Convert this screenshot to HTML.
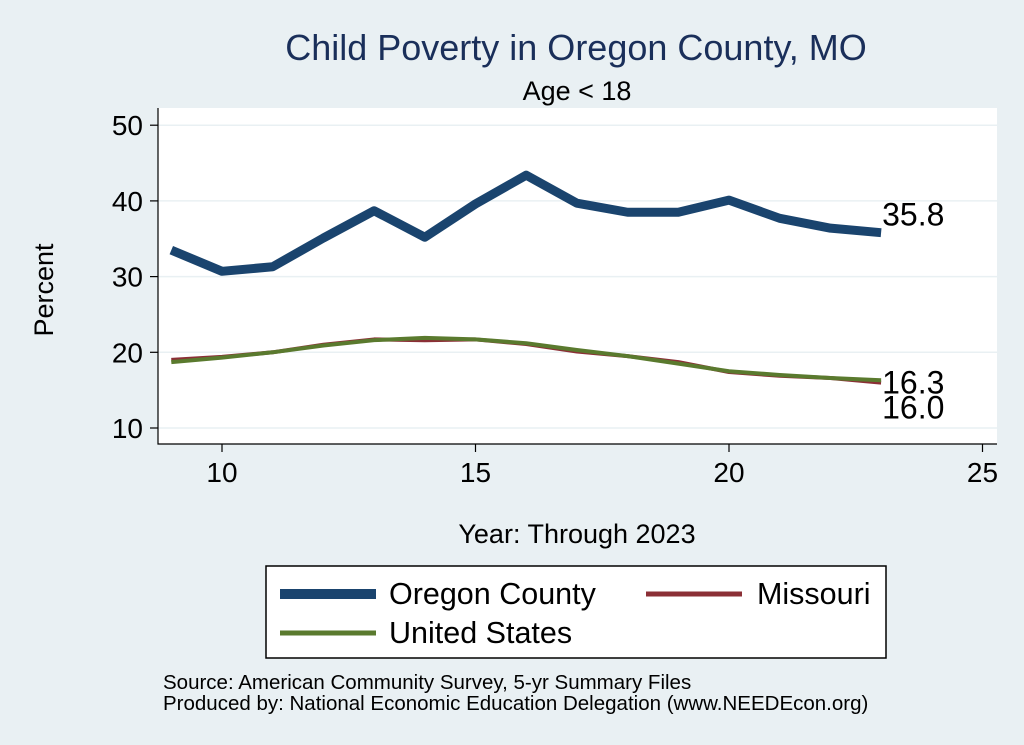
<!DOCTYPE html>
<html><head><meta charset="utf-8"><style>
body{margin:0;background:#e9f0f3;}
svg{display:block;font-family:"Liberation Sans",sans-serif;}
</style></head><body>
<svg id="chart" width="1024" height="745">
<rect x="0" y="0" width="1024" height="745" fill="#e9f0f3"/>
<text x="576" y="60" font-size="36" fill="#1a2f5a" text-anchor="middle">Child Poverty in Oregon County, MO</text>
<text x="577" y="100" font-size="27" fill="#000" text-anchor="middle">Age &lt; 18</text>
<rect x="158" y="108" width="839" height="336" fill="#fff"/>
<g id="grid"></g><g id="axes"></g><g id="series"></g>
<text transform="translate(53,290) rotate(-90)" font-size="27" text-anchor="middle">Percent</text>
<text x="577" y="543" font-size="27" text-anchor="middle">Year: Through 2023</text>
<g>
<rect x="266" y="566" width="620" height="92" fill="#fff" stroke="#000" stroke-width="1.5"/>
<line x1="280" y1="594" x2="376" y2="594" stroke="#1a446e" stroke-width="10"/>
<text x="389" y="604" font-size="30.5">Oregon County</text>
<line x1="646" y1="594" x2="742" y2="594" stroke="#8b2f36" stroke-width="5"/>
<text x="757" y="604" font-size="30.5">Missouri</text>
<line x1="280" y1="633" x2="376" y2="633" stroke="#5a7a2e" stroke-width="5"/>
<text x="389" y="643" font-size="30.5">United States</text>
</g>
<text x="163" y="689" font-size="20.5">Source: American Community Survey, 5-yr Summary Files</text>
<text x="163" y="710" font-size="20.5">Produced by: National Economic Education Delegation (www.NEEDEcon.org)</text>
</svg>
<script>
const years=[9,10,11,12,13,14,15,16,17,18,19,20,21,22,23];
const oregon=[33.5,30.7,31.3,35.1,38.7,35.2,39.6,43.4,39.7,38.5,38.5,40.1,37.7,36.4,35.8];
const missouri=[19.0,19.4,20.0,21.0,21.7,21.6,21.7,21.1,20.1,19.5,18.7,17.4,16.9,16.6,16.0];
const us=[18.7,19.3,20.0,20.9,21.6,21.9,21.7,21.2,20.3,19.5,18.5,17.5,17.0,16.6,16.3];
const xTicks=[10,15,20,25];
const yTicks=[10,20,30,40,50];
const NS="http://www.w3.org/2000/svg";
const xs=v=>222+(v-10)*50.7;
const ys=v=>428-(v-10)*7.57;
function mk(tag,attrs,parent){const e=document.createElementNS(NS,tag);for(const k in attrs)e.setAttribute(k,attrs[k]);document.getElementById(parent).appendChild(e);return e;}
yTicks.forEach(t=>{
 const g=mk('line',{x1:158,x2:997,y1:ys(t),y2:ys(t),stroke:'#e9f0f3','stroke-width':1.5},'grid');
 
 
 const tk=mk('line',{x1:150,x2:158,y1:ys(t),y2:ys(t),stroke:'#000','stroke-width':1.2},'axes');
 
 
 const tx=mk('text',{x:143,y:ys(t)+10,'font-size':28,'text-anchor':'end'},'axes');tx.textContent=t;
 
 
});
xTicks.forEach(t=>{
 const tk=mk('line',{x1:xs(t),x2:xs(t),y1:444,y2:452,stroke:'#000','stroke-width':1.2},'axes');
 
 
 const tx=mk('text',{x:xs(t),y:482,'font-size':28,'text-anchor':'middle'},'axes');tx.textContent=t;
 
 
});
const ax=mk('path',{d:'M158 108 V444 H997',fill:'none',stroke:'#000','stroke-width':1.2},'axes');


function line(vals,color,w,name){
 const p=mk('polyline',{points:years.map((y,i)=>xs(y)+','+ys(vals[i])).join(' '),fill:'none',stroke:color,'stroke-width':w,'stroke-linejoin':'round'},'series');
 
 
}
line(oregon,'#1a446e',9,'line-oregon-county');
line(missouri,'#8b2f36',4,'line-missouri');
line(us,'#5a7a2e',4,'line-united-states');
const last=years.length-1;
[[oregon[last],-7,'label-oregon-last'],[us[last],13,'label-us-last'],[missouri[last],36,'label-missouri-last']].forEach(([v,dy,n])=>{
 const t=mk('text',{x:xs(years[last])+1,y:ys(v)+dy,'font-size':32},'series');t.textContent=v.toFixed(1);
 
 
});
</script>
</body></html>
